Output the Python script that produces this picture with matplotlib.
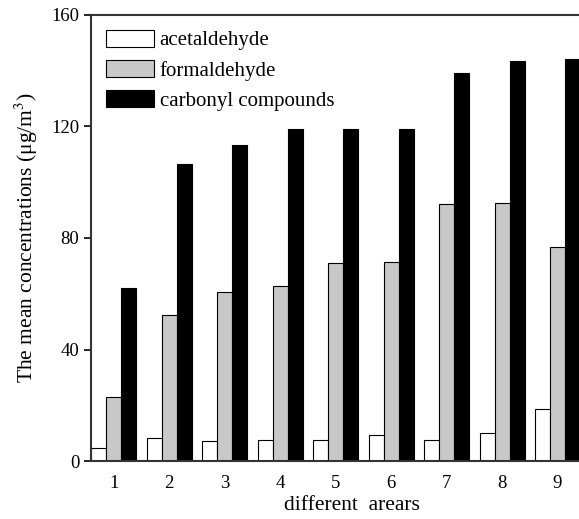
import matplotlib
matplotlib.use("Agg")
import matplotlib.pyplot as plt
import numpy as np

# values (ug/m3)
areas = [1, 2, 3, 4, 5, 6, 7, 8, 9]
acetaldehyde = [4.7, 8.1, 7.2, 7.5, 7.5, 9.3, 7.5, 10.2, 18.6]
formaldehyde = [23.0, 52.3, 60.5, 62.7, 70.9, 71.4, 92.1, 92.7, 76.8]
carbonyl = [62.0, 106.7, 113.2, 119.0, 119.0, 119.0, 139.2, 143.4, 144.3]

plt.rcParams['font.family'] = ['Liberation Serif', 'DejaVu Serif']
plt.rcParams['mathtext.fontset'] = 'stix'

fig = plt.figure(figsize=(5.79, 5.19), dpi=100)
# axes run past the right edge, the original picture is cropped there
ax = fig.add_axes([91 / 579, 58 / 519, 522 / 579, 446 / 519])

x = np.array(areas)
w = 0.27
ax.bar(x - w, acetaldehyde, w, color='white', edgecolor='black', linewidth=0.8, label='acetaldehyde')
ax.bar(x, formaldehyde, w, color='#c8c8c8', edgecolor='black', linewidth=0.8, label='formaldehyde')
ax.bar(x + w, carbonyl, w, color='black', edgecolor='black', linewidth=0.8, label='carbonyl compounds')

ax.set_xlim(0.59, 10.0)
ax.set_ylim(0, 160)
ax.set_yticks([0, 40, 80, 120, 160])
ax.set_xticks(areas)
ax.tick_params(axis='y', direction='out', length=5, width=1.2, labelsize=13.5)
ax.tick_params(axis='x', length=0, labelsize=13.5, pad=10)
for s in ax.spines.values():
    s.set_linewidth(1.5)
    s.set_color('#333333')

ax.set_xlabel('different  arears', fontsize=15.5, labelpad=3)
ax.set_ylabel('The mean concentrations (μg/m$^3$)', fontsize=15.5, labelpad=8)

ax.legend(loc='upper left', frameon=False, fontsize=15, handlelength=2.3, handleheight=0.9,
          handletextpad=0.3, labelspacing=0.45, borderaxespad=0.3, bbox_to_anchor=(0.0, 1.0))

fig.savefig('out.png', dpi=100)
